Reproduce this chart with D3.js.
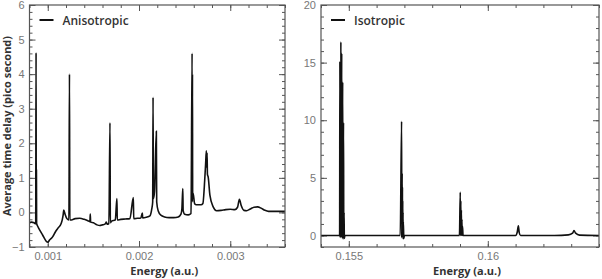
<!DOCTYPE html>
<html>
<head>
<meta charset="utf-8">
<script src="https://cdn.jsdelivr.net/npm/d3@7"></script>
<style>
  body { margin: 0; background: #fff; }
  svg { font-family: "Open Sans", "DejaVu Sans", sans-serif; }
  .tick text { fill: #777; font-size: 11px; }
  .domain { stroke: none; }
  .tick line { stroke: #555; }
</style>
</head>
<body>
<svg width="602" height="279"></svg>
<script>
// anisotropic: energy (a.u.) and average time delay (ps)
var anisoX = [0.00080, 0.00082, 0.00085, 0.000868, 0.000872, 0.000874, 0.000876, 0.000878,
  0.00089, 0.00092, 0.000945, 0.00097, 0.00099, 0.00100, 0.00102, 0.001055,
  0.00108, 0.00111, 0.001147, 0.00116,
  0.00117, 0.001175, 0.00119, 0.00121, 0.001232, 0.001238, 0.001242, 0.00126, 0.00130, 0.00135,
  0.00140, 0.00144, 0.001462, 0.001466, 0.00147, 0.00150, 0.00154, 0.00157, 0.00160, 0.00163,
  0.001642, 0.00165, 0.00167, 0.001682, 0.001686, 0.00170, 0.00174, 0.001758, 0.001762, 0.00180,
  0.00185, 0.00190, 0.001938, 0.001942, 0.00198, 0.00202, 0.002037, 0.00204, 0.00208, 0.00212,
  0.00214, 0.00215, 0.002154, 0.002158, 0.00217, 0.00219, 0.002194, 0.00221, 0.00224, 0.00228,
  0.00233, 0.00238, 0.00243, 0.00246, 0.00247, 0.00248, 0.002484, 0.00250, 0.00254, 0.00257,
  0.002582, 0.002584, 0.002586, 0.002588, 0.002593, 0.00261, 0.00264, 0.00268, 0.00270, 0.00272,
  0.00273, 0.002738, 0.002742, 0.002746, 0.00275, 0.002758, 0.002777, 0.002813, 0.00285, 0.00290,
  0.00295, 0.00300, 0.00305, 0.00308, 0.00310, 0.00312, 0.00315, 0.00318, 0.00322, 0.00326,
  0.00330, 0.00334, 0.00338, 0.00342, 0.00350, 0.00360];
var anisoY = [-0.30, -0.28, -0.30, -0.33, 4.62, -0.30, 1.22, -0.32,
  -0.40, -0.55, -0.66, -0.78, -0.85, -0.86, -0.80, -0.70,
  -0.58, -0.46, -0.32, -0.20,
  -0.05, 0.07, -0.05, -0.18, -0.22, 4.00, -0.22, -0.22, -0.18, -0.17,
  -0.20, -0.24, -0.27, -0.05, -0.28, -0.30, -0.36, -0.38, -0.36, -0.33,
  -0.28, -0.34, -0.32, 2.59, -0.30, -0.25, -0.22, 0.40, -0.22, -0.20,
  -0.19, -0.18, 0.43, -0.18, -0.17, -0.16, -0.02, -0.16, -0.14, -0.10,
  0.10, 0.30, 3.33, 0.40, 0.60, 2.35, 0.30, 0.05, -0.08, -0.13,
  -0.15, -0.15, -0.13, -0.05, 0.10, 0.69, 0.05, -0.05, -0.07, -0.03,
  4.60, 0.30, 4.00, 0.50, 0.55, 0.25, 0.22, 0.22, 0.26, 0.93,
  1.40, 1.78, 1.30, 1.72, 1.10, 1.03, 0.50, 0.16, 0.05, 0.06,
  0.08, 0.09, 0.08, 0.15, 0.38, 0.20, 0.06, 0.05, 0.10, 0.15,
  0.16, 0.12, 0.06, 0.03, 0.03, 0.03];

// isotropic
var isoX = [0.15400, 0.15465, 0.15467, 0.15468, 0.15469, 0.154715, 0.15473, 0.154745, 0.15476,
  0.15478, 0.15479, 0.15481, 0.15482, 0.15483, 0.15484, 0.15486,
  0.15685, 0.15690, 0.156905, 0.15692, 0.156925, 0.15693, 0.156935, 0.15694, 0.156945,
  0.15695, 0.156955, 0.15696, 0.15698, 0.15700,
  0.15898, 0.15901, 0.159015, 0.15903, 0.159035, 0.15905, 0.159055, 0.15907, 0.159075,
  0.15909, 0.15911,
  0.16100, 0.16106, 0.16110, 0.16113, 0.16118,
  0.16240, 0.16290, 0.16305, 0.16310, 0.16316, 0.16330, 0.16400];
var isoY = [0, 0, 0, 15.1, -0.2, 16.8, -0.2, 15.8, -0.2,
  13.3, -0.3, 9.8, -0.3, 2.0, -0.25, 0,
  0, 9.9, -0.2, 5.4, 0, 4.2, 0, 3.0, 0,
  2.0, -0.3, 1.2, -0.25, 0,
  0, 3.75, 0, 3.0, 0, 2.2, 0, 1.4, 0,
  0.8, 0,
  0, 0.3, 0.85, 0.25, 0,
  0, 0.05, 0.2, 0.42, 0.2, 0.03, 0];

var anisoXTicks = [0.001, 0.002, 0.003];
var anisoYTicks = [-1, 0, 1, 2, 3, 4, 5, 6];
var isoXTicks = [0.155, 0.16];
var isoYTicks = [0, 5, 10, 15, 20];

var svg = d3.select("svg");

function panel(opt) {
  var x = d3.scaleLinear().domain(opt.xDomain).range([opt.left, opt.right]);
  var y = d3.scaleLinear().domain(opt.yDomain).range([247, 5]);
  var g = svg.append("g");
  var fmt = d3.format("");

  var xMinor = d3.range(opt.xDomain[0], opt.xDomain[1] + opt.xStep / 2, opt.xStep);
  var yMinor = d3.range(opt.yDomain[0], opt.yDomain[1] + opt.yStep / 2, opt.yStep);

  // minor ticks, all four sides
  g.append("g").attr("transform", "translate(0,247)")
    .call(d3.axisBottom(x).tickValues(xMinor).tickSize(-3).tickFormat(""));
  g.append("g").attr("transform", "translate(0,5)")
    .call(d3.axisTop(x).tickValues(xMinor).tickSize(-3).tickFormat(""));
  g.append("g").attr("transform", "translate(" + opt.left + ",0)")
    .call(d3.axisLeft(y).tickValues(yMinor).tickSize(-3).tickFormat(""));
  g.append("g").attr("transform", "translate(" + opt.right + ",0)")
    .call(d3.axisRight(y).tickValues(yMinor).tickSize(-3).tickFormat(""));

  // major ticks
  g.append("g").attr("transform", "translate(0,247)")
    .call(d3.axisBottom(x).tickValues(opt.xTicks).tickSize(-6).tickPadding(5).tickFormat(fmt));
  g.append("g").attr("transform", "translate(0,5)")
    .call(d3.axisTop(x).tickValues(opt.xTicks).tickSize(-6).tickFormat(""));
  g.append("g").attr("transform", "translate(" + opt.left + ",0)")
    .call(d3.axisLeft(y).tickValues(opt.yTicks).tickSize(-6).tickPadding(5).tickFormat(fmt));
  g.append("g").attr("transform", "translate(" + opt.right + ",0)")
    .call(d3.axisRight(y).tickValues(opt.yTicks).tickSize(-6).tickFormat(""));

  var pts = opt.xs.map(function (d, i) { return [d, opt.ys[i]]; });
  g.append("path")
    .datum(pts)
    .attr("fill", "none")
    .attr("stroke", "#111")
    .attr("stroke-width", 1.6)
    .attr("d", d3.line().curve(d3.curveMonotoneX)
      .x(function (d) { return x(d[0]); }).y(function (d) { return y(d[1]); }));

  g.append("rect")
    .attr("x", opt.left).attr("y", 5)
    .attr("width", opt.right - opt.left).attr("height", 242)
    .attr("fill", "none").attr("stroke", "#555").attr("stroke-width", 1.2);

  // legend
  g.append("line")
    .attr("x1", opt.left + 10).attr("x2", opt.left + 24)
    .attr("y1", 20).attr("y2", 20)
    .attr("stroke", "#111").attr("stroke-width", 2);
  g.append("text")
    .attr("x", opt.left + 33).attr("y", 24.5)
    .attr("fill", "#333").attr("font-size", "12px").attr("font-weight", 600)
    .text(opt.name);

  g.append("text")
    .attr("x", (opt.left + opt.right) / 2 + 7).attr("y", 275)
    .attr("text-anchor", "middle")
    .attr("fill", "#333").attr("font-size", "11px").attr("font-weight", "bold")
    .text("Energy (a.u.)");
}

panel({ name: "Anisotropic", left: 29.5, right: 285, xDomain: [0.0008, 0.0036], yDomain: [-1, 6],
  xStep: 0.0002, yStep: 0.2, xTicks: anisoXTicks, yTicks: anisoYTicks, xs: anisoX, ys: anisoY });
panel({ name: "Isotropic", left: 321, right: 599, xDomain: [0.154, 0.164], yDomain: [-1, 20],
  xStep: 0.001, yStep: 1, xTicks: isoXTicks, yTicks: isoYTicks, xs: isoX, ys: isoY });

svg.append("text")
  .attr("transform", "translate(11,126) rotate(-90)")
  .attr("text-anchor", "middle")
  .attr("fill", "#333").attr("font-size", "11px").attr("font-weight", "bold")
  .text("Average time delay (pico second)");
</script>
</body>
</html>
